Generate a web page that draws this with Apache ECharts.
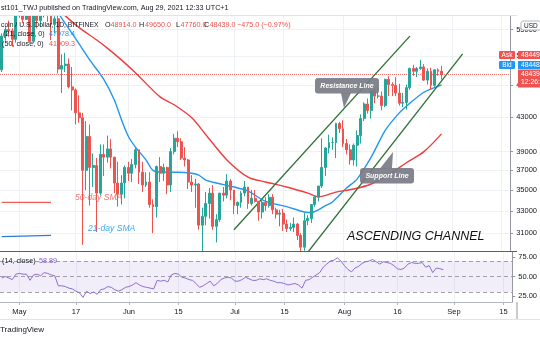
<!DOCTYPE html>
<html><head><meta charset="utf-8">
<script src="https://cdn.jsdelivr.net/npm/echarts@6/dist/echarts.min.js"></script>
<style>html,body{margin:0;padding:0;background:#fff}#c{width:540px;height:340px}</style>
</head><body><div id="c"></div>
<script>
// ---------- DATA ----------
const startDate = [2021, 3, 26];   // 2021-04-26 (first category)
const dayCount = 145;              // categories up to 2021-09-17
// daily candles from 2021-04-26 to 2021-08-29: [open, close, low, high]
const ohlc = [
[49100,54000,48800,54400],[54000,55000,53300,55500],[55000,54800,53900,56400],[54800,53500,52400,55200],[53500,57700,53000,58000],
[57700,57800,56900,58400],[57800,56600,56000,57900],[56600,57200,56500,58900],[57200,53200,53000,57200],[53200,57500,52900,57900],
[57500,56400,55200,58300],[56400,57300,55400,58600],[57300,58900,56900,59500],[58900,58200,56200,59200],[58200,55800,53400,59500],
[55800,56700,54400,57100],[56700,49200,48600,58000],[49200,49700,46000,51300],[49700,49900,48800,51500],[49900,46800,46600,50700],
[46800,46400,43800,49500],[46400,43500,42100,46600],[43500,42900,42300,45700],[42900,37000,30000,43500],[37000,40700,35000,42500],
[40700,37300,33500,42100],[37300,37500,35300,38800],[37500,34700,31100,38300],[34700,38700,34500,39800],[38700,38400,36400,39800],
[38400,39300,37800,40800],[39300,38400,37200,40400],[38400,35700,34700,38400],[35700,34600,33400,37900],[34600,35700,33600,36500],
[35700,37300,34200,37500],
[37300,36700,35900,37900],[36700,37600,35800,38200],[37600,39200,37200,39500],[39200,36800,35600,39200],[36800,35500,34800,37900],
[35500,35800,35300,36800],[35800,33600,33300,36800],[33600,33400,31000,34100],[33400,37400,32400,37500],[37400,36700,35800,38400],
[36700,37300,35900,37700],[37300,35500,34600,37400],[35500,39000,34800,39400],[39000,40500,38700,41000],[40500,40100,39500,41300],
[40100,38300,38100,40500],[38300,38100,37400,39500],[38100,35800,35100,38200],[35800,35500,34800,36500],[35500,35600,33300,36100],
[35600,31700,31300,35700],[31700,32500,28800,33300],[32500,33700,31700,34800],[33700,34700,32300,35200],[34700,31600,31300,35500],
[31600,32200,30200,32700],[32200,34700,32000,34700],[34700,34500,33900,35300],[34500,35900,34200,36600],[35900,35000,34000,36100],
[35000,33500,32700,35000],[33500,33800,32700,33900],[33800,34700,33300,34900],[34700,35300,34400,35900],[35300,33700,33200,35300],
[33700,34200,33500,35000],[34200,33900,33800,35000],[33900,32900,32100,33900],[32900,33800,32300,34100],[33800,33500,33000,34300],
[33500,34300,33300,34600],[34300,33100,32700,34600],[33100,32700,32300,33300],[32700,32800,31600,33100],[32800,31800,31200,33200],
[31800,31400,31100,32200],[31400,31500,31200,31900],[31500,31800,31100,32400],[31800,30800,30400,31900],[30800,29800,29300,31000],
[29800,32100,29500,32800],[32100,32300,31700,32600],[32300,33600,31900,33600],[33600,34300,33400,34500],[34300,35400,33900,35400],
[35400,37300,35200,40500],[37300,39400,36400,39500],[39400,40000,38800,40900],[40000,40000,39200,40600],[40000,42200,38300,42300],
[42200,41600,41100,42400],
[41600,39900,39500,42600],[39900,39200,38700,40400],[39200,38100,37600,39800],[38100,39700,37500,39900],[39700,40800,37400,41400],
[40800,42800,39900,43300],[42800,44600,42500,44800],[44600,43800,43400,45300],[43800,46300,42800,46500],[46300,45600,44700,46700],
[45600,45600,45300,46800],[45600,44400,43800,46200],[44400,47800,44200,47900],[47800,47100,45600,48200],[47100,47000,45600,47400],
[47000,46000,45600,48100],[46000,44700,44400,47200],[44700,44800,44200,46000],[44800,46700,43900,47100],[46700,49300,46400,49400],
[49300,48900,48300,49800],[48900,49300,48100,49500],[49300,49500,49100,50500],[49500,47700,47600,49900],[47700,48900,47100,49300],
[48900,47000,46400,49400],[47000,49100,46800,49200],[49100,48914,48300,49300],[48914,48439,47760,49650]
];
// RSI(14) per day
const rsi = [
48,50,48,46,53,54,53,53,45,52, 53,51,55,54,52,51,38,38,37,35,
34,31,29,23,31,28,30,27,33,34, 37,36,33,31,33,36,37,39,42,39,
37,36,35,34,45,44,45,43,52,54, 53,49,48,46,45,41,36,38,41,44,
38,41,46,48,49,48,44,44,46,49, 47,45,45,47,46,47,45,44,42,42,
41,39,40,41,39,35,45,46,49,52, 55,62,66,70,71,74,70,64,59,56,
61,63,67,69,70,72,69,66,69,68, 67,64,60,59,61,66,68,67,67,68,
62,64,55,61,60,58.89
];
// moving averages
const sma21Dates = ['2021-04-26','2021-05-01','2021-05-06','2021-05-10','2021-05-12','2021-05-13','2021-05-17','2021-05-21','2021-05-25','2021-05-28','2021-05-30','2021-06-01','2021-06-03','2021-06-06','2021-06-08','2021-06-11','2021-06-15','2021-06-19','2021-06-21','2021-06-23','2021-06-26','2021-07-01','2021-07-05','2021-07-10','2021-07-16','2021-07-21','2021-07-23','2021-07-25','2021-07-27','2021-07-29','2021-08-02','2021-08-05','2021-08-09','2021-08-13','2021-08-17','2021-08-20','2021-08-24','2021-08-27','2021-08-29'];
const sma21Vals  = [58200,58700,58900,58500,57700,56800,53600,50500,47800,45100,42700,40700,39500,38100,37000,36800,36800,36700,36500,36000,35700,35300,34900,33900,33400,32900,32850,33100,33500,33850,35200,36100,38400,41400,43500,44700,46100,46700,47078];
const sma50Dates = ['2021-04-26','2021-05-06','2021-05-10','2021-05-14','2021-05-18','2021-05-23','2021-05-26','2021-05-30','2021-06-03','2021-06-10','2021-06-14','2021-06-19','2021-06-23','2021-06-29','2021-07-05','2021-07-10','2021-07-16','2021-07-22','2021-07-25','2021-07-30','2021-08-04','2021-08-09','2021-08-14','2021-08-19','2021-08-24','2021-08-29'];
const sma50Vals  = [60000,60200,59500,57200,55300,53400,52200,50500,48700,45500,44500,42900,40900,38100,36300,35800,35300,34700,34350,34800,35100,35600,36550,37800,39000,41000];
// drawn trend lines (date, price)
const resistanceLine = [['2021-07-01',31300],['2021-08-20',54000]];
const supportLine    = [['2021-07-22',29380],['2021-09-04',51350]];
const sma50Marker    = [['2021-04-26',33800],['2021-05-10',33800]];
const sma21Marker    = [['2021-04-26',30700],['2021-05-10',30800]];
const lastPrice = 48439;
// axes
const priceTicks = [31000,33000,35000,37000,39000,43000,47000,51000,55000];
const priceRange = [29480, 57300];
const rsiTicks = [75,50,25];
const rsiLevels = [70,50,30];
const rsiRange = [17.1, 81.6];
const xLabels = {'2021-05-01':'May','2021-05-17':'17','2021-06-01':'Jun','2021-06-15':'15','2021-07-01':'Jul','2021-07-15':'15','2021-08-01':'Aug','2021-08-16':'16','2021-09-01':'Sep','2021-09-15':'15'};

// ---------- BUILD ----------
const dates = [];
const t0 = Date.UTC(startDate[0], startDate[1], startDate[2]);
for (let i = 0; i < dayCount; i++) dates.push(new Date(t0 + i * 86400000).toISOString().slice(0, 10));
const LN = v => Math.log(v);
const candleData = ohlc.map(r => r.map(LN));
const pairs = (ds, vs) => ds.map((d, i) => [d, LN(vs[i])]);
const ptPairs = a => a.map(p => [p[0], LN(p[1])]);

const UP = '#26a69a', DOWN = '#ef5350';
const FONT = 'Liberation Sans';
const isLab = (i, v) => Object.prototype.hasOwnProperty.call(xLabels, v);
const gridLineColor = '#eef1f6';

function xAxis(gi, showLabels) {
  return {
    type: 'category', gridIndex: gi, data: dates, boundaryGap: true, z: gi === 1 ? 4 : 0,
    axisLine: { show: true, lineStyle: { color: gi === 0 ? '#5d606b' : '#b2b5be', width: 1 } },
    axisTick: { show: showLabels, interval: isLab, alignWithLabel: true, length: 3, lineStyle: { color: '#b2b5be' } },
    axisLabel: { show: showLabels, interval: isLab, formatter: v => xLabels[v] || '', color: '#131722', fontSize: 7.5, fontFamily: FONT, margin: 6 },
    splitLine: { show: true, interval: isLab, alignWithLabel: true, lineStyle: { color: gridLineColor, width: 1 } }
  };
}

const T = (text, x, y, o) => ({ type: 'text', x, y, z: 60, style: Object.assign({ text, fill: '#131722', font: '7.2px "' + FONT + '"', align: 'left', verticalAlign: 'middle', textAlign: 'left', textVerticalAlign: 'middle' }, o || {}) });
const R = (x, y, w, h, fill, o) => ({ type: 'rect', z: (o && o.z) || 55, shape: { x, y, width: w, height: h, r: (o && o.r) || 0 }, style: Object.assign({ fill }, (o && o.style) || {}) });

const graphics = [
  // masks so candles stay inside the price pane
  R(0, 0, 516.5, 15, '#ffffff', { z: 3 }),
  R(0, 252, 516.5, 50, '#ffffff', { z: 3 }),
  { type: 'line', z: 5, shape: { x1: 0, y1: 251.5, x2: 517, y2: 251.5 }, style: { stroke: '#5d606b', lineWidth: 1 } },
  { type: 'line', z: 5, shape: { x1: 0, y1: 15.5, x2: 517, y2: 15.5 }, style: { stroke: '#e0e3eb', lineWidth: 1 } },
  { type: 'line', z: 5, shape: { x1: 517, y1: 302, x2: 517, y2: 319 }, style: { stroke: '#9598a1', lineWidth: 1 } },
  { type: 'line', z: 5, shape: { x1: 0, y1: 319.5, x2: 540, y2: 319.5 }, style: { stroke: '#e0e3eb', lineWidth: 1 } },
  T('st101_TWJ published on TradingView.com, Aug 29, 2021 12:33 UTC+1', 1, 8),
  T('coin / U.S. Dollar, 1D, BITFINEX', 1, 25, { font: '6.8px "' + FONT + '"' }),
  T('O', 105, 25), T('48914.0', 110.5, 25, { fill: DOWN }),
  T('H', 139, 25), T('49650.0', 145, 25, { fill: DOWN }),
  T('L', 176, 25), T('47760.0', 180.5, 25, { fill: DOWN }),
  T('C', 204, 25), T('48439.0', 209.5, 25, { fill: DOWN }),
  T('\u2212475.0 (\u22120.97%)', 237, 25, { fill: DOWN }),
  T('(21, close, 0)', 3, 34.5), T('47078.4', 49, 34.5, { fill: '#2196f3' }),
  T('(50, close, 0)', 2, 44), T('41909.3', 49, 44, { fill: DOWN }),
  T('(14, close)', 2, 261), T('58.89', 39, 261, { fill: '#7e57c2' }),
  T('TradingView', 0, 330, { font: '8px "' + FONT + '"', fill: '#131722' }),
  // price scale badges
  R(521, 21, 22, 9, '#ffffff', { r: 2, style: { stroke: '#b2b5be', lineWidth: 1 } }),
  T('USD', 524, 25.8, { font: '6.5px "' + FONT + '"' }),
  R(499, 51, 16, 8, DOWN, { r: 1 }), T('Ask', 507, 55.2, { fill: '#fff', align: 'center', textAlign: 'center', font: '6.5px "' + FONT + '"' }),
  R(518, 51, 24, 8, DOWN), T('48449', 521, 55.2, { fill: '#fff', font: '6.8px "' + FONT + '"' }),
  R(499, 61, 16, 8, '#2196f3', { r: 1 }), T('Bid', 507, 65.2, { fill: '#fff', align: 'center', textAlign: 'center', font: '6.5px "' + FONT + '"' }),
  R(518, 61, 24, 8, '#2196f3'), T('48448', 521, 65.2, { fill: '#fff', font: '6.8px "' + FONT + '"' }),
  R(518, 69.5, 24, 18, DOWN), T('48439', 521, 74.5, { fill: '#fff', font: '6.8px "' + FONT + '"' }), T('12:26:28', 521, 82.5, { fill: '#fff', font: '6.8px "' + FONT + '"' }),
  // callouts
  R(315, 78, 64, 15.5, 'rgba(120,123,134,0.92)', { r: 3 }),
  { type: 'polygon', z: 55, shape: { points: [[341, 93], [351, 93], [344, 108]] }, style: { fill: 'rgba(120,123,134,0.92)' } },
  T('Resistance Line', 347, 85.8, { fill: '#fff', font: 'italic bold 7px "' + FONT + '"', align: 'center', textAlign: 'center' }),
  R(360, 168, 54, 15.5, 'rgba(120,123,134,0.92)', { r: 3 }),
  { type: 'polygon', z: 55, shape: { points: [[380, 168.5], [392, 168.5], [393, 152]] }, style: { fill: 'rgba(120,123,134,0.92)' } },
  T('Support Line', 387, 175.8, { fill: '#fff', font: 'italic bold 7px "' + FONT + '"', align: 'center', textAlign: 'center' }),
  T('ASCENDING CHANNEL', 347, 237, { fill: '#111111', font: 'italic 12.5px "' + FONT + '"' }),
  T('50-day SMA', 75, 198, { fill: 'rgba(239,83,80,0.8)', font: 'italic 8.6px "' + FONT + '"' }),
  T('21-day SMA', 88, 228.5, { fill: 'rgba(33,150,243,0.85)', font: 'italic 8.6px "' + FONT + '"' })
];

const lineSeries = (name, data, color, width, extra) => Object.assign({
  name, type: 'line', xAxisIndex: 0, yAxisIndex: 0, data, showSymbol: false, symbol: 'none',
  lineStyle: { color, width }, silent: true, z: 2
}, extra || {});

const option = {
  animation: false,
  backgroundColor: '#ffffff',
  grid: [
    { left: -1.2, right: 23, top: 15, height: 236 },
    { left: -1.2, right: 23, top: 252, height: 50 }
  ],
  xAxis: [xAxis(0, false), xAxis(1, true)],
  yAxis: [
    {
      type: 'value', gridIndex: 0, position: 'right', min: LN(priceRange[0]), max: LN(priceRange[1]),
      axisLine: { show: true, lineStyle: { color: '#9598a1', width: 1 } },
      axisTick: { show: true, length: 3, customValues: priceTicks.map(LN), lineStyle: { color: '#9598a1' } },
      axisLabel: { show: true, customValues: priceTicks.map(LN), formatter: v => String(Math.round(Math.exp(v))), color: '#131722', fontSize: 7.5, fontFamily: FONT, margin: 6 },
      splitLine: { show: true, lineStyle: { color: gridLineColor, width: 1 } }
    },
    {
      type: 'value', gridIndex: 1, position: 'right', min: rsiRange[0], max: rsiRange[1], z: 4,
      axisLine: { show: true, lineStyle: { color: '#9598a1', width: 1 } },
      axisTick: { show: true, length: 3, customValues: rsiTicks, lineStyle: { color: '#9598a1' } },
      axisLabel: { show: true, customValues: rsiTicks, formatter: v => v.toFixed(2), color: '#131722', fontSize: 7.5, fontFamily: FONT, margin: 6 },
      splitLine: { show: false }
    }
  ],
  series: [
    {
      type: 'candlestick', xAxisIndex: 0, yAxisIndex: 0, data: candleData, barWidth: 2.4, clip: true, z: 2,
      itemStyle: { color: UP, color0: DOWN, borderColor: UP, borderColor0: DOWN, borderWidth: 1 },
      markLine: {
        silent: true, symbol: 'none', label: { show: false }, z: 2,
        lineStyle: { color: DOWN, type: 'dotted', width: 1, opacity: 0.8 },
        data: [{ yAxis: LN(lastPrice) }]
      }
    },
    lineSeries('SMA21', pairs(sma21Dates, sma21Vals), '#2196f3', 1.4, { smooth: 0.3 }),
    lineSeries('SMA50', pairs(sma50Dates, sma50Vals), '#f23b3b', 1.4, { smooth: 0.3 }),
    lineSeries('Resistance', ptPairs(resistanceLine), '#2f6f34', 1.3),
    lineSeries('Support', ptPairs(supportLine), '#2f6f34', 1.3),
    lineSeries('SMA50 note', ptPairs(sma50Marker), '#f25a55', 1.3),
    lineSeries('SMA21 note', ptPairs(sma21Marker), '#2a7de0', 1.3),
    {
      type: 'line', xAxisIndex: 1, yAxisIndex: 1, data: rsi, showSymbol: false, symbol: 'none', silent: true, z: 6,
      lineStyle: { color: '#8e6ed0', width: 1 },
      markArea: { silent: true, z: 4, itemStyle: { color: 'rgba(126,87,194,0.10)' }, data: [[{ yAxis: rsiLevels[2] }, { yAxis: rsiLevels[0] }]] },
      markLine: {
        silent: true, symbol: 'none', label: { show: false }, z: 5,
        lineStyle: { color: '#8a8d96', type: [4, 3], width: 1, opacity: 0.8 },
        data: rsiLevels.map(v => ({ yAxis: v }))
      }
    }
  ],
  graphic: { elements: graphics }
};
const chart = echarts.init(document.getElementById('c'));
chart.setOption(option);
</script></body></html>
